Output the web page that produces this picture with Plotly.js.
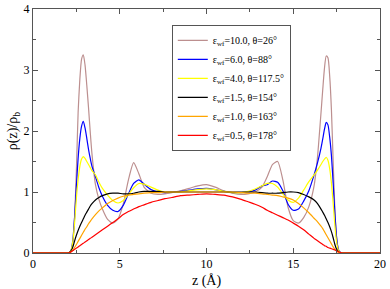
<!DOCTYPE html>
<html>
<head>
<meta charset="utf-8">
<script src="https://cdn.plot.ly/plotly-3.0.1.min.js"></script>
<style>html,body{margin:0;padding:0;background:#fff;}#chart{width:390px;height:289px;}</style>
</head>
<body>
<div id="chart"></div>
<script>
const z = [0, 1.8, 2.0,
  2.1, 2.2, 2.3, 2.4, 2.5, 2.6, 2.7, 2.8, 2.9, 3.0, 3.1, 3.2, 3.3, 3.4,
  3.6, 3.8, 4.0, 4.3, 4.6, 4.9, 5.2, 5.5, 5.8, 6.1, 6.4,
  6.8, 7.2, 7.6, 8.0, 8.5, 9.0, 9.5, 10.0, 10.5, 11.0, 11.5, 12.0, 12.4, 12.8, 13.2,
  13.5, 13.8, 14.1, 14.4, 14.7, 15.0, 15.3, 15.6, 15.9, 16.2,
  16.4, 16.6, 16.7, 16.8, 16.9, 17.0, 17.1, 17.2, 17.3, 17.4, 17.5, 17.6, 17.7, 17.8,
  18.0, 20];

const eps10 = [0, 0, 0,
  0.01, 0.04, 0.18, 0.6, 1.35, 2.3, 2.85, 3.18, 3.25, 3.08, 2.75, 2.38, 1.98, 1.62,
  1.12, 0.88, 0.72, 0.55, 0.49, 0.56, 0.8, 1.2, 1.48, 1.3, 1.08,
  0.98, 0.96, 0.97, 0.99, 1.02, 1.06, 1.1, 1.12, 1.08, 1.02, 0.98, 0.96, 0.97, 1.0, 1.08,
  1.25, 1.45, 1.5, 1.2, 0.75, 0.53, 0.49, 0.58, 0.76, 1.1,
  1.58, 2.3, 2.68, 3.03, 3.23, 3.2, 2.9, 2.35, 1.5, 0.7, 0.25, 0.06, 0.015, 0,
  0, 0];

const eps6 = [0, 0, 0,
  0.01, 0.05, 0.22, 0.6, 1.1, 1.55, 1.88, 2.08, 2.16, 2.05, 1.88, 1.7, 1.55, 1.42,
  1.25, 1.07, 0.93, 0.78, 0.7, 0.68, 0.78, 0.97, 1.14, 1.2, 1.13,
  1.04, 1.0, 0.99, 1.0, 1.01, 1.03, 1.05, 1.06, 1.04, 1.01, 0.99, 0.99, 1.0, 1.03, 1.1,
  1.12, 1.18, 1.16, 1.02, 0.8, 0.7, 0.72, 0.85, 1.02, 1.28,
  1.48, 1.72, 1.87, 2.03, 2.14, 2.1, 1.9, 1.6, 1.15, 0.65, 0.25, 0.06, 0.015, 0,
  0, 0];

const eps4 = [0, 0, 0,
  0.01, 0.05, 0.2, 0.5, 0.9, 1.2, 1.42, 1.54, 1.58, 1.55, 1.5, 1.45, 1.4, 1.35,
  1.28, 1.16, 1.06, 0.95, 0.86, 0.82, 0.86, 0.96, 1.07, 1.14, 1.13,
  1.08, 1.03, 1.0, 1.0, 1.0, 1.02, 1.04, 1.05, 1.04, 1.01, 0.99, 0.99, 1.01, 1.05, 1.1,
  1.14, 1.14, 1.08, 0.97, 0.87, 0.83, 0.9, 1.03, 1.17, 1.28,
  1.36, 1.45, 1.5, 1.54, 1.57, 1.52, 1.38, 1.15, 0.82, 0.45, 0.18, 0.05, 0.01, 0,
  0, 0];

const eps15 = [0, 0, 0,
  0.01, 0.04, 0.1, 0.2, 0.29, 0.37, 0.44, 0.5, 0.56, 0.62, 0.67, 0.72, 0.77, 0.81,
  0.87, 0.91, 0.94, 0.97, 0.98, 0.98, 0.97, 0.97, 0.98, 1.0, 1.01,
  1.01, 1.01, 1.0, 1.0, 1.0, 1.0, 1.0, 1.0, 1.0, 1.0, 1.0, 1.0, 1.0, 1.0, 0.99,
  0.98, 0.98, 0.98, 0.99, 1.0, 1.0, 0.99, 0.96, 0.92, 0.87,
  0.81, 0.72, 0.67, 0.62, 0.56, 0.5, 0.43, 0.35, 0.25, 0.14, 0.06, 0.02, 0.005, 0,
  0, 0];

const eps10b = [0, 0, 0,
  0.005, 0.02, 0.05, 0.09, 0.14, 0.19, 0.24, 0.29, 0.34, 0.39, 0.43, 0.48, 0.52, 0.56,
  0.63, 0.69, 0.74, 0.81, 0.86, 0.9, 0.93, 0.95, 0.96, 0.97, 0.98,
  0.99, 0.99, 1.0, 1.0, 1.0, 1.0, 1.0, 1.0, 1.0, 1.0, 1.0, 0.99, 0.98, 0.98, 0.97,
  0.96, 0.95, 0.94, 0.92, 0.9, 0.87, 0.81, 0.74, 0.66, 0.57,
  0.51, 0.44, 0.4, 0.35, 0.3, 0.25, 0.2, 0.15, 0.1, 0.06, 0.03, 0.01, 0.005, 0,
  0, 0];

const eps05 = [0, 0, 0,
  0.005, 0.02, 0.04, 0.06, 0.08, 0.1, 0.12, 0.14, 0.16, 0.18, 0.2, 0.22, 0.24, 0.26,
  0.3, 0.34, 0.38, 0.44, 0.5, 0.56, 0.63, 0.68, 0.72, 0.76, 0.79,
  0.83, 0.86, 0.89, 0.91, 0.94, 0.95, 0.96, 0.97, 0.96, 0.95, 0.92, 0.88, 0.84, 0.8, 0.75,
  0.7, 0.66, 0.62, 0.58, 0.54, 0.49, 0.44, 0.38, 0.31, 0.24,
  0.2, 0.16, 0.14, 0.12, 0.11, 0.09, 0.08, 0.07, 0.06, 0.05, 0.04, 0.02, 0.01, 0,
  0, 0];

const seriesNames = [
  "ε<sub>wf</sub>=10.0, θ=26°",
  "ε<sub>wf</sub>=6.0, θ=88°",
  "ε<sub>wf</sub>=4.0, θ=117.5°",
  "ε<sub>wf</sub>=1.5, θ=154°",
  "ε<sub>wf</sub>=1.0, θ=163°",
  "ε<sub>wf</sub>=0.5, θ=178°"
];
const seriesData = [eps10, eps6, eps4, eps15, eps10b, eps05];
const seriesColors = ["#bc8f8f", "#0000ff", "#ffff00", "#000000", "#ffa500", "#ff0000"];

const traces = seriesData.map((y, i) => ({
  x: z, y: y, type: "scatter", mode: "lines", name: seriesNames[i],
  line: {color: seriesColors[i], width: 1.2, shape: "spline", smoothing: 0.6}
}));

const font = "'Liberation Serif', 'Times New Roman', serif";
const axisCommon = {
  showline: true, linecolor: "#555", linewidth: 1, mirror: "ticks",
  ticks: "inside", ticklen: 5, tickcolor: "#555", tickwidth: 1,
  showgrid: false, zeroline: false,
  tickfont: {family: font, size: 12, color: "#000"}
};

const layout = {
  width: 390, height: 289,
  margin: {l: 33, r: 10, t: 9, b: 36},
  paper_bgcolor: "#fff", plot_bgcolor: "#fff",
  showlegend: true,
  legend: {
    x: 0.40, y: 0.935, xanchor: "left", yanchor: "top",
    bgcolor: "#fff", bordercolor: "#555", borderwidth: 1,
    font: {family: font, size: 10, color: "#000"}
  },
  xaxis: Object.assign({}, axisCommon, {
    range: [0, 20], dtick: 5, tick0: 0,
    minor: {dtick: 2.5, ticks: "inside", ticklen: 3, tickcolor: "#555"},
    title: {text: "z (Å)", font: {family: font, size: 14, color: "#000"}, standoff: 4}
  }),
  yaxis: Object.assign({}, axisCommon, {
    range: [0, 4], dtick: 1, tick0: 0,
    minor: {dtick: 0.5, ticks: "inside", ticklen: 3, tickcolor: "#555"},
    title: {text: "ρ(z)/ρ<sub>b</sub>", font: {family: font, size: 14, color: "#000"}, standoff: 2}
  })
};

Plotly.newPlot("chart", traces, layout, {displayModeBar: false, staticPlot: true});
</script>
</body>
</html>
